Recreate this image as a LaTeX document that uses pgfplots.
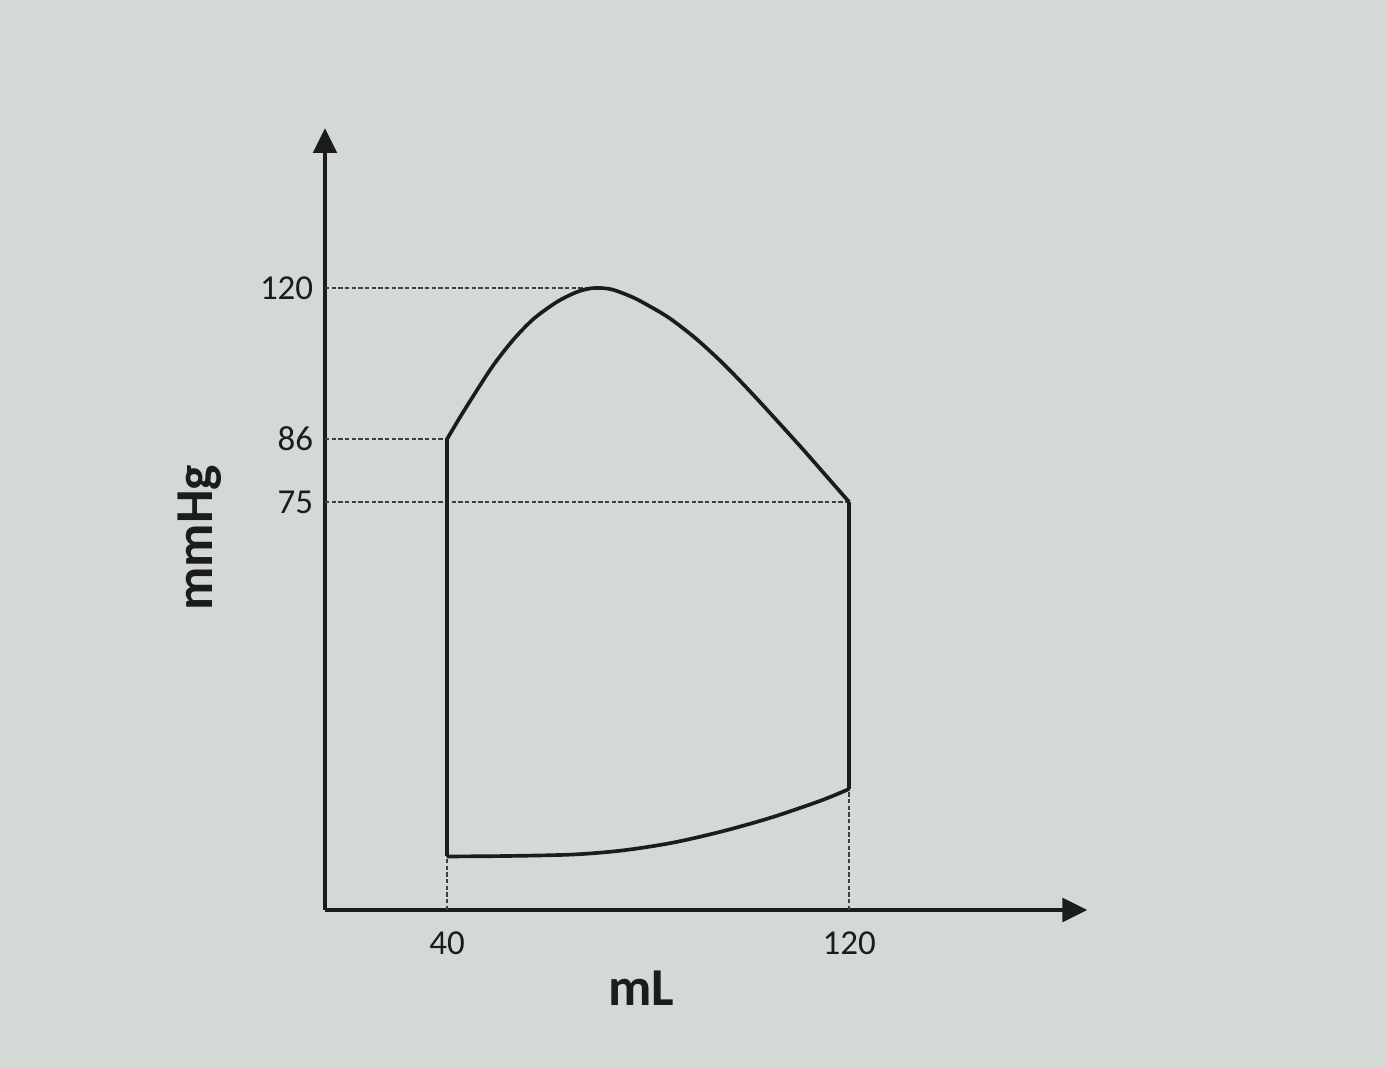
\documentclass[border=0pt]{standalone}
\usepackage{fontspec}
\setmainfont{Carlito}
\usepackage{pgfplots}
\pgfplotsset{compat=1.18}
\usetikzlibrary{arrows.meta}
\definecolor{paper}{RGB}{211,218,214}
\definecolor{ink}{RGB}{28,28,32}
\begin{document}
\begin{tikzpicture}
\fill[paper] (0,0) rectangle (415.8pt,320.4pt);
\path[use as bounding box] (0,0) rectangle (415.8pt,320.4pt);
\begin{axis}[
  at={(97.5pt,47.4pt)}, anchor=south west,
  scale only axis, width=228.7pt, height=234.6pt,
  xmin=15.7, xmax=167.4, ymin=0, ymax=782,
  axis lines=left,
  axis line style={ink, line width=1.4pt, -{Triangle[length=7.5pt,width=7pt]}},
  xtick={40,120}, ytick={408,471,622}, yticklabels={75,86,120},
  major tick length=0pt,
  tick label style={font=\fontsize{10.5}{12}\selectfont, text=ink},
  /pgf/number format/assume math mode=true,
  xticklabel style={yshift=-3pt},
  xlabel={mL}, ylabel={mmHg},
  label style={font=\fontsize{16}{19}\selectfont\bfseries, text=ink},
  xlabel style={at={(axis description cs:0.415,-0.0997)}, anchor=center},
  ylabel style={at={(axis description cs:-0.164,0.476)}, anchor=center},
  clip=false,
]
% dashed reference lines
\addplot[ink!85, line width=0.45pt, dash pattern=on 1.3pt off 0.7pt] coordinates {(15.7,622) (68,622)};
\addplot[ink!85, line width=0.45pt, dash pattern=on 1.3pt off 0.7pt] coordinates {(15.7,471) (40,471)};
\addplot[ink!85, line width=0.45pt, dash pattern=on 1.3pt off 0.7pt] coordinates {(15.7,408) (120,408)};
\addplot[ink!85, line width=0.45pt, dash pattern=on 1.3pt off 0.7pt] coordinates {(40,0) (40,53.5)};
\addplot[ink!85, line width=0.45pt, dash pattern=on 1.3pt off 0.7pt] coordinates {(120,0) (120,121)};
% pressure-volume loop: ejection (top)
\addplot[ink, line width=1.1pt, smooth, tension=0.5] coordinates {
  (40,471) (42.6,493) (45.9,519.5) (49.3,545.5) (53.3,571) (57.3,591.5) (62.0,608.5)
  (66.1,618.5) (69.4,622) (72.8,620.5) (76.8,613) (79.5,606) (84.2,592)
  (89.6,571) (95.0,546) (100.3,518.5) (105.7,489) (111.1,459) (116.5,428) (120,408)};
% filling (bottom)
\addplot[ink, line width=1.1pt, smooth, tension=0.5] coordinates {
  (40,53.5) (52.1,54) (65.2,55.5) (75.0,59.6) (84.9,67.3) (94.8,78.7) (104.6,92.6) (114.5,109.6) (120,121)};
% isovolumetric phases
\addplot[ink, line width=1.1pt] coordinates {(40,53.5) (40,471)};
\addplot[ink, line width=1.1pt] coordinates {(120,121) (120,408)};
\end{axis}
\end{tikzpicture}
\end{document}
